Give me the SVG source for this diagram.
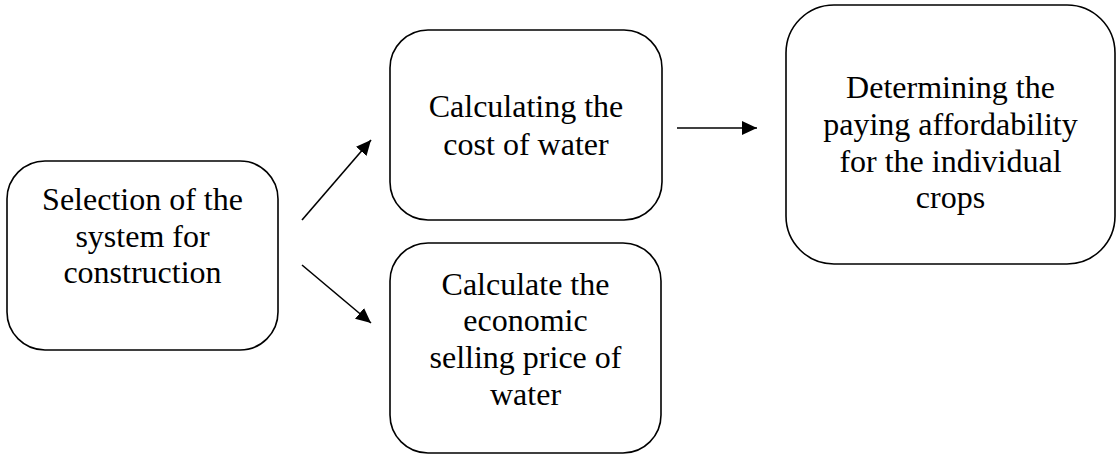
<svg xmlns="http://www.w3.org/2000/svg" width="1118" height="455" viewBox="0 0 1118 455">
<style>
.box{fill:#fff;stroke:#000;stroke-width:1.6}
.t{font-family:"Liberation Serif","Times New Roman",serif;font-size:32px;fill:#000;text-anchor:middle}
.c{stroke:#000;stroke-width:1.6;fill:none}
</style>
<defs>
<marker id="ah" viewBox="0 0 10 10" refX="10" refY="5" markerWidth="15" markerHeight="14" markerUnits="userSpaceOnUse" orient="auto" preserveAspectRatio="none">
<path d="M0,0 L10,5 L0,10 z" fill="#000"/>
</marker>
</defs>
<rect width="1118" height="455" fill="#fff"/>
<g id="n1">
<rect class="box" x="7" y="161" width="271" height="189" rx="38"/>
<text class="t" x="142.5" y="210">Selection of the</text>
<text class="t" x="142.5" y="247">system for</text>
<text class="t" x="142.5" y="283">construction</text>
</g>
<g id="n2">
<rect class="box" x="390" y="30" width="272" height="190" rx="38"/>
<text class="t" x="526" y="117">Calculating the</text>
<text class="t" x="526" y="155">cost of water</text>
</g>
<g id="n3">
<rect class="box" x="390" y="243" width="271" height="210" rx="38"/>
<text class="t" x="525.5" y="295">Calculate the</text>
<text class="t" x="525.5" y="331">economic</text>
<text class="t" x="525.5" y="368">selling price of</text>
<text class="t" x="525.5" y="405">water</text>
</g>
<g id="n4">
<rect class="box" x="786" y="5" width="329" height="259" rx="48"/>
<text class="t" x="950.5" y="98">Determining the</text>
<text class="t" x="950.5" y="135">paying affordability</text>
<text class="t" x="950.5" y="172">for the individual</text>
<text class="t" x="950.5" y="208">crops</text>
</g>
<g id="connectors">
<line class="c" x1="302" y1="220" x2="371" y2="140" marker-end="url(#ah)"/>
<line class="c" x1="302" y1="265" x2="371" y2="323" marker-end="url(#ah)"/>
<line class="c" x1="677" y1="128" x2="757" y2="128" marker-end="url(#ah)"/>
</g>
</svg>
